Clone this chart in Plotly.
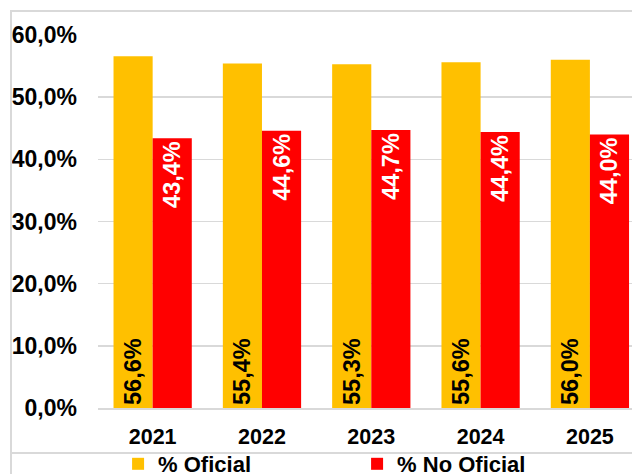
import plotly.graph_objects as go

years = ["2021", "2022", "2023", "2024", "2025"]
oficial = [56.6, 55.4, 55.3, 55.6, 56.0]
no_oficial = [43.4, 44.6, 44.7, 44.4, 44.0]
y_ticks = [0, 10, 20, 30, 40, 50, 60]

FONT = "Liberation Sans, Arial, sans-serif"
W, H = 632, 474
ML, MR, MT, MB = 98, 0, 35, 66
PW = W - ML - MR
PH = H - MT - MB

def px_x(x):
    return (x - ML) / PW

def px_y(y):
    return (H - MB - y) / PH

fig = go.Figure()
fig.add_trace(go.Bar(
    x=years, y=oficial, name="% Oficial",
    marker=dict(color="#FFC000", line=dict(width=0)),
    texttemplate="%{y:.1f}%", textposition="inside", insidetextanchor="start",
    textangle=-90, textfont=dict(color="black", size=23.5, family=FONT),
    constraintext="none",
))
fig.add_trace(go.Bar(
    x=years, y=no_oficial, name="% No Oficial",
    marker=dict(color="#FF0000", line=dict(width=0)),
    texttemplate="%{y:.1f}%", textposition="inside", insidetextanchor="end",
    textangle=-90, textfont=dict(color="white", size=23.5, family=FONT),
    constraintext="none",
))

border = "#D9D9D9"
shapes = [
    dict(type="line", xref="paper", yref="paper", x0=px_x(10), x1=1.02, y0=px_y(11), y1=px_y(11),
         line=dict(color=border, width=2)),
    dict(type="line", xref="paper", yref="paper", x0=px_x(11), x1=px_x(11), y0=px_y(11), y1=px_y(480),
         line=dict(color=border, width=2)),
    dict(type="line", xref="paper", yref="paper", x0=px_x(11), x1=1.02, y0=px_y(453), y1=px_y(453),
         line=dict(color=border, width=2)),
]

fig.update_layout(
    width=W, height=H,
    margin=dict(l=ML, r=MR, t=MT, b=MB, pad=0, autoexpand=False),
    paper_bgcolor="white", plot_bgcolor="white",
    separators=",.",
    barmode="group", bargap=0.284, bargroupgap=0,
    font=dict(family=FONT, size=21, color="black", weight="bold"),
    showlegend=True,
    legend=dict(orientation="h", xref="container", yref="container",
                x=0.565, xanchor="center", y=(H - 464) / H, yanchor="middle",
                font=dict(size=22, family=FONT, color="black", weight="bold"),
                entrywidth=194, itemwidth=30, traceorder="normal",
                bgcolor="rgba(0,0,0,0)"),
    shapes=shapes,
    xaxis=dict(type="category", range=[-0.5, 4.385], showgrid=False,
               showline=True, linecolor="#D9D9D9", linewidth=2, ticks="",
               tickfont=dict(size=21.5, family=FONT, color="black", weight="bold"),
               ticklabelstandoff=8, fixedrange=True),
    yaxis=dict(range=[0, 60], tickvals=y_ticks, ticktext=[f"{v:.1f}%".replace(".", ",") for v in y_ticks],
               showgrid=True, gridcolor="#D9D9D9", gridwidth=1.5, zeroline=False,
               showline=False, ticks="",
               tickfont=dict(size=23, family=FONT, color="black", weight="bold"),
               ticklabelstandoff=20, fixedrange=True),
)

fig.write_html("out.html", config={"displayModeBar": False, "staticPlot": True},
               post_script="document.body.style.margin='0';document.body.style.overflow='hidden';")
